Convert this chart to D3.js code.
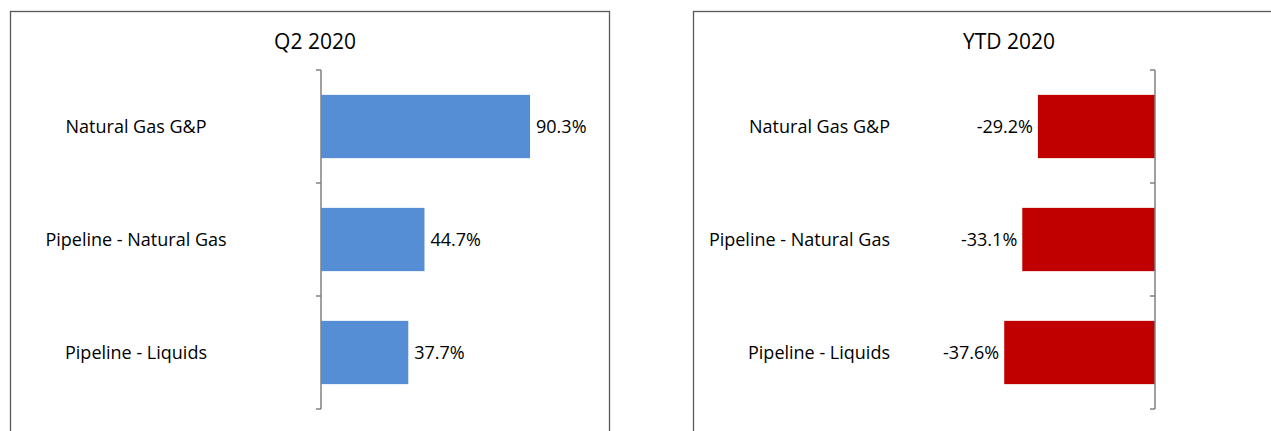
<!DOCTYPE html>
<html>
<head>
<meta charset="utf-8">
<script src="https://cdn.jsdelivr.net/npm/d3@7"></script>
<style>
  body { margin: 0; background: #fff; }
  text { font-family: "Open Sans", "Noto Sans", sans-serif; fill: #000; }
</style>
</head>
<body>
<script>
// categories and values
var categories = ['Natural Gas G&P', 'Pipeline - Natural Gas', 'Pipeline - Liquids'];
var q2Values = [90.3, 44.7, 37.7];
var ytdValues = [-29.2, -33.1, -37.6];
var titles = ['Q2 2020', 'YTD 2020'];

var svg = d3.select('body').append('svg')
    .attr('width', 1271)
    .attr('height', 431);

//panel setup
var panels = [
  {title: titles[0], values: q2Values, box: [10, 609], domain: [0, 100], range: [321, 552.5],
   color: '#558ED5', titleX: 315, labelX: 136, labelAnchor: 'middle'},
  {title: titles[1], values: ytdValues, box: [693, 1300], domain: [-40, 0], range: [994.6, 1155],
   color: '#C00000', titleX: 1009, labelX: 890, labelAnchor: 'end'}
];

var yScale = d3.scaleBand()
    .domain(categories)
    .range([70, 409])
    .paddingInner(0.44)
    .paddingOuter(0.22);

panels.forEach(function(p) {
  var g = svg.append('g');

  //frame
  g.append('rect')
      .attr('x', p.box[0] + 0.5)
      .attr('y', 11.5)
      .attr('width', p.box[1] - p.box[0])
      .attr('height', 440)
      .attr('fill', 'none')
      .attr('stroke', '#595959')
      .attr('stroke-width', 1.3);

  g.append('text')
      .attr('x', p.titleX)
      .attr('y', 49)
      .attr('text-anchor', 'middle')
      .style('font-size', '21px')
      .text(p.title);

  var xScale = d3.scaleLinear().domain(p.domain).range(p.range);
  var data = categories.map(function(c, i) { return {cat: c, v: p.values[i]}; });

  g.selectAll('.bar').data(data).enter().append('rect')
      .attr('class', 'bar')
      .attr('x', function(d) { return Math.min(xScale(d.v), xScale(0)); })
      .attr('y', function(d) { return yScale(d.cat); })
      .attr('width', function(d) { return Math.abs(xScale(d.v) - xScale(0)); })
      .attr('height', yScale.bandwidth())
      .attr('fill', p.color);

  //category axis with ticks between bands
  var ax = g.append('g').attr('stroke', '#808080').attr('stroke-width', 1.5);
  ax.append('line')
      .attr('x1', xScale(0)).attr('x2', xScale(0))
      .attr('y1', yScale.range()[0]).attr('y2', yScale.range()[1]);
  var tickYs = categories.map(function(c) { return yScale(c) - yScale.step() * 0.22; });
  tickYs.push(yScale.range()[1]);
  ax.selectAll('.tick').data(tickYs).enter().append('line')
      .attr('x1', xScale(0) - 5).attr('x2', xScale(0))
      .attr('y1', function(d) { return d; }).attr('y2', function(d) { return d; });

  //category labels
  g.selectAll('.cat').data(data).enter().append('text')
      .attr('x', p.labelX)
      .attr('y', function(d) { return yScale(d.cat) + yScale.bandwidth() / 2; })
      .attr('dy', '0.35em')
      .attr('text-anchor', p.labelAnchor)
      .style('font-size', '18px')
      .text(function(d) { return d.cat; });

  //value labels
  g.selectAll('.val').data(data).enter().append('text')
      .attr('x', function(d) { return d.v >= 0 ? xScale(d.v) + 6 : xScale(d.v) - 5; })
      .attr('y', function(d) { return yScale(d.cat) + yScale.bandwidth() / 2; })
      .attr('dy', '0.35em')
      .attr('text-anchor', function(d) { return d.v >= 0 ? 'start' : 'end'; })
      .style('font-size', '18px')
      .text(function(d) { return d.v.toFixed(1) + '%'; });
});
</script>
</body>
</html>
